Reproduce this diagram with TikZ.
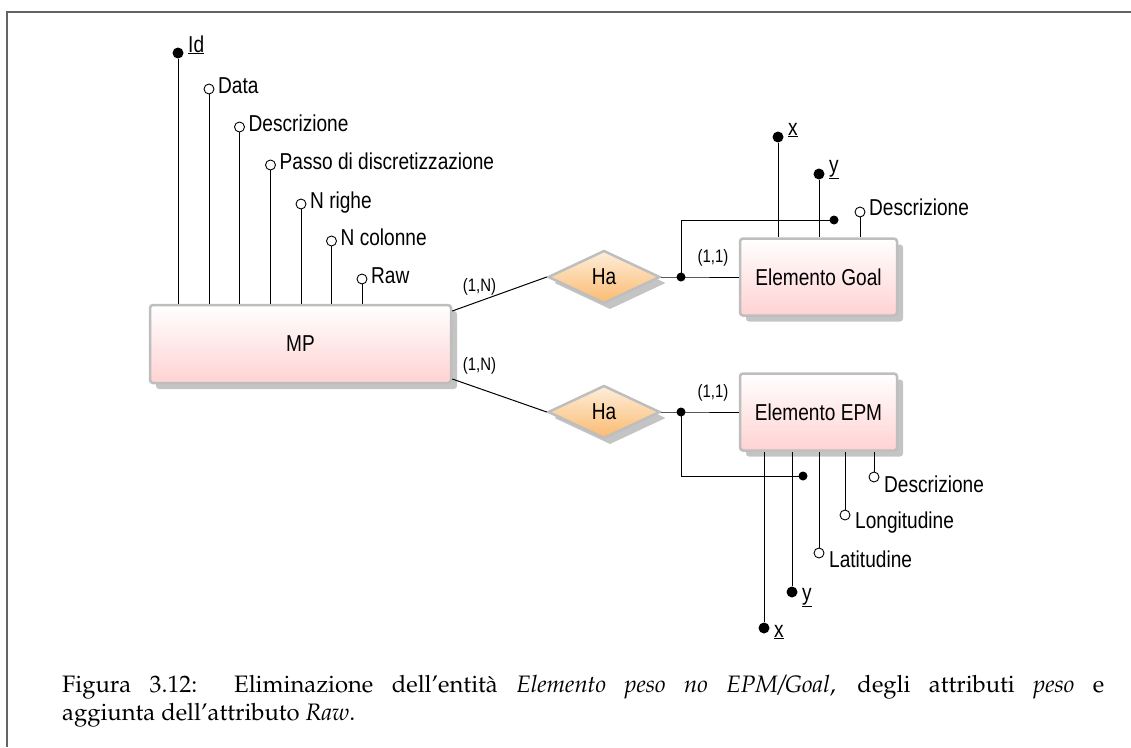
\documentclass[tikz,border=0pt]{standalone}
\usepackage[T1]{fontenc}
\usepackage{fontspec}
\newfontfamily\diagfont[FakeStretch=0.83]{Liberation Sans}
\usetikzlibrary{shapes.geometric,shadows,calc}

\definecolor{entborder}{RGB}{190,190,190}
\definecolor{entpink}{RGB}{255,210,210}
\definecolor{relTop}{RGB}{254,238,218}
\definecolor{relBot}{RGB}{250,186,112}
\definecolor{shadowgray}{RGB}{196,196,196}
\definecolor{framegray}{RGB}{100,100,100}

\tikzset{
  dfont/.style={font=\diagfont\fontsize{23}{26}\selectfont},
  entity/.style={dfont, draw=entborder, line width=2.5pt, rounded corners=3pt,
    top color=white, bottom color=entpink, inner sep=0pt,
    drop shadow={shadow xshift=6pt, shadow yshift=-6pt, fill=shadowgray, opacity=1}},
  relation/.style={dfont, diamond, aspect=2, draw=entborder, line width=2.5pt,
    top color=relTop, bottom color=relBot, inner sep=0pt,
    minimum width=112pt, minimum height=53pt,
    drop shadow={shadow xshift=6pt, shadow yshift=-6pt, fill=shadowgray, opacity=1}},
  conn/.style={line width=1pt},
  attropen/.style={circle, draw, line width=0.9pt, fill=white, minimum size=10pt, inner sep=0pt},
  attrkey/.style={circle, fill=black, minimum size=11pt, inner sep=0pt},
  jdot/.style={circle, fill=black, minimum size=9pt, inner sep=0pt},
  lbl/.style={dfont, inner sep=0pt, anchor=base west},
  card/.style={font=\diagfont\fontsize{18}{20}\selectfont, inner sep=0pt}
}

\begin{document}
\begin{tikzpicture}[x=1pt, y=-1pt]
  \useasboundingbox (0,0) rectangle (1131,747);

  % page frame
  \draw[framegray, line width=1.5pt] (7,747) -- (7,12) -- (1131,12);

  % entities
  \node[entity, minimum width=301pt, minimum height=78pt] (MP) at (300.5,344) {MP};
  \node[entity, minimum width=157pt, minimum height=77pt] (Goal) at (818.5,277) {Elemento Goal};
  \node[entity, minimum width=157pt, minimum height=77pt] (EPM) at (818.5,412) {Elemento EPM};

  % relationships
  \node[relation] (Ha1) at (604,277) {Ha};
  \node[relation] (Ha2) at (604,412) {Ha};

  % MP -- Ha
  \coordinate (m1) at ($(MP.east)+(0,-33)$);
  \coordinate (m2) at ($(MP.east)+(0,35)$);
  \draw[conn] (m1) -- (Ha1.west);
  \draw[conn] (m2) -- (Ha2.west);
  \node[card] (c1) at (479.5,287) {(1,N)};
  \node[card] (c2) at (479.5,366) {(1,N)};

  % Ha -- Elemento Goal / EPM with external identifiers
  \node[jdot] (J1) at (681,277) {};
  \node[jdot] (J2) at (681,412) {};
  \draw[conn] (Ha1.east) -- (J1.center) -- (Goal.west);
  \draw[conn] (Ha2.east) -- (J2.center) -- (EPM.west);
  \node[card] (c3) at (713,258) {(1,1)};
  \node[card] (c4) at (713,393) {(1,1)};
  \node[jdot] (K1) at (834,220) {};
  \node[jdot] (K2) at (803,476) {};
  \draw[conn] (J1.center) |- (K1.center);
  \draw[conn] (J2.center) |- (K2.center);

  % attributes of MP
  \node[attrkey]  (aId)   at (178,53)  {};
  \node[attropen] (aData) at (209,89)  {};
  \node[attropen] (aDesc) at (239.5,127) {};
  \node[attropen] (aPasso) at (270.5,165) {};
  \node[attropen] (aNr)   at (301,204) {};
  \node[attropen] (aNc)   at (331.5,241) {};
  \node[attropen] (aRaw)  at (362,279) {};
  \foreach \a in {aId,aData,aDesc,aPasso,aNr,aNc,aRaw}
    \draw[conn] (\a) -- (\a |- MP.north);
  \node[lbl] (tId)    at ($(aId)+(10,-1)$)   {\underline{Id}};
  \node[lbl] (tData)  at ($(aData)+(9,4)$)   {Data};
  \node[lbl] (tDesc)  at ($(aDesc)+(9,4)$)   {Descrizione};
  \node[lbl] (tPasso) at ($(aPasso)+(9,4)$)  {Passo di discretizzazione};
  \node[lbl] (tNr)    at ($(aNr)+(9,4)$)     {N righe};
  \node[lbl] (tNc)    at ($(aNc)+(9,4)$)     {N colonne};
  \node[lbl] (tRaw)   at ($(aRaw)+(9,4)$)    {Raw};

  % attributes of Elemento Goal
  \node[attrkey]  (gX)    at (778,137) {};
  \node[attrkey]  (gY)    at (819,174) {};
  \node[attropen] (gDesc) at (860,212) {};
  \foreach \a in {gX,gY,gDesc}
    \draw[conn] (\a) -- (\a |- Goal.north);
  \node[lbl] (tgX)    at ($(gX)+(10,-2)$)   {\underline{x}};
  \node[lbl] (tgY)    at ($(gY)+(10,-2)$)   {\underline{y}};
  \node[lbl] (tgDesc) at ($(gDesc)+(9,3)$)  {Descrizione};

  % attributes of Elemento EPM
  \node[attrkey]  (eX)    at (764,628) {};
  \node[attrkey]  (eY)    at (792,592) {};
  \node[attropen] (eLat)  at (819,553) {};
  \node[attropen] (eLon)  at (845,515) {};
  \node[attropen] (eDesc) at (874,477) {};
  \foreach \a in {eX,eY,eLat,eLon,eDesc}
    \draw[conn] (\a) -- (\a |- EPM.south);
  \node[lbl] (teX)    at ($(eX)+(10,9)$)     {\underline{x}};
  \node[lbl] (teY)    at ($(eY)+(10,8)$)     {\underline{y}};
  \node[lbl] (teLat)  at ($(eLat)+(10,14)$)  {Latitudine};
  \node[lbl] (teLon)  at ($(eLon)+(10,13)$)  {Longitudine};
  \node[lbl] (teDesc) at ($(eDesc)+(10,15)$) {Descrizione};

  % caption
  \node[anchor=base west, inner sep=0pt] (caption) at (62,692)
    {\parbox[t]{1042pt}{\fontencoding{T1}\fontfamily{ppl}\fontsize{23.8}{28.6}\selectfont
      Figura 3.12:\ \ Eliminazione dell'entit\`a \textit{Elemento peso no EPM/Goal}, degli attributi \textit{peso} e\linebreak
      aggiunta dell'attributo \textit{Raw}.}};
\end{tikzpicture}
\end{document}
